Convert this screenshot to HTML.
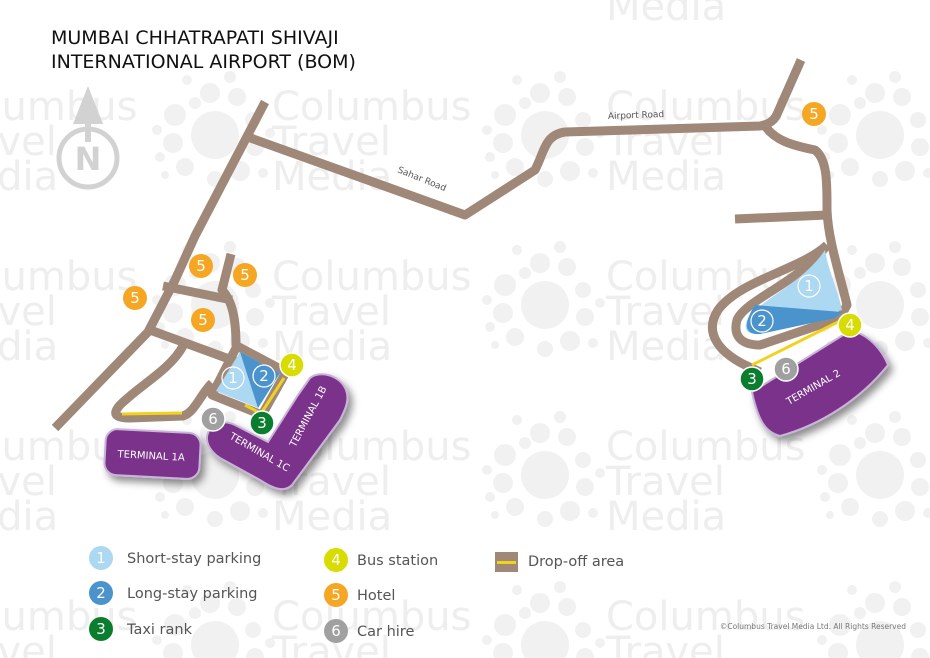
<!DOCTYPE html>
<html><head><meta charset="utf-8"><style>
html,body{margin:0;padding:0;background:#fff;width:930px;height:658px;overflow:hidden;}
svg{display:block;font-family:"DejaVu Sans","Liberation Sans",sans-serif;}
</style></head><body>
<svg width="930" height="658" viewBox="0 0 930 658" xmlns="http://www.w3.org/2000/svg">
<defs>
<g id="dots" fill="#f1f1f1">
<circle cx="0" cy="0" r="24"/>
<circle cx="-40" cy="-20" r="11"/><circle cx="-42" cy="8" r="10"/><circle cx="-30" cy="32" r="9"/>
<circle cx="-5" cy="-42" r="10"/><circle cx="22" cy="-38" r="9"/><circle cx="38" cy="-15" r="8"/>
<circle cx="40" cy="12" r="9"/><circle cx="25" cy="36" r="10"/><circle cx="0" cy="44" r="8"/>
<circle cx="-20" cy="-32" r="6"/><circle cx="-58" cy="-5" r="5"/><circle cx="-55" cy="22" r="5"/>
<circle cx="55" cy="-2" r="5"/><circle cx="-28" cy="-55" r="5"/><circle cx="15" cy="-58" r="6"/>
<circle cx="-50" cy="40" r="4"/><circle cx="48" cy="38" r="5"/>
</g>
<g id="wm" fill="#eeeeee" font-size="40">
<text x="0" y="0">Columbus</text><text x="0" y="35">Travel</text><text x="0" y="70">Media</text>
</g>
<filter id="sh" x="-20%" y="-20%" width="150%" height="150%"><feDropShadow dx="4" dy="5" stdDeviation="4" flood-color="#000" flood-opacity="0.45"/></filter>
</defs>

<g>
<use href="#dots" x="215" y="135"/><use href="#dots" x="545" y="135"/><use href="#dots" x="880" y="135"/>
<use href="#dots" x="215" y="305"/><use href="#dots" x="545" y="305"/><use href="#dots" x="880" y="305"/>
<use href="#dots" x="215" y="475"/><use href="#dots" x="545" y="475"/><use href="#dots" x="880" y="475"/>
<use href="#dots" x="215" y="645"/><use href="#dots" x="545" y="645"/><use href="#dots" x="880" y="645"/>
<use href="#wm" x="-62" y="120"/><use href="#wm" x="272" y="120"/><use href="#wm" x="606" y="120"/>
<use href="#wm" x="-62" y="290"/><use href="#wm" x="272" y="290"/><use href="#wm" x="606" y="290"/>
<use href="#wm" x="-62" y="460"/><use href="#wm" x="272" y="460"/><use href="#wm" x="606" y="460"/>
<use href="#wm" x="-62" y="630"/><use href="#wm" x="272" y="630"/><use href="#wm" x="606" y="630"/>
<use href="#wm" x="606" y="-50"/>
</g>

<text x="51" y="44" font-size="19" fill="#111">MUMBAI CHHATRAPATI SHIVAJI</text>
<text x="51" y="68" font-size="19" fill="#111">INTERNATIONAL AIRPORT (BOM)</text>

<circle cx="88" cy="158" r="29" fill="none" stroke="#d2d2d2" stroke-width="5"/>
<text x="88" y="170" font-size="32" font-weight="bold" fill="#d2d2d2" text-anchor="middle">N</text>
<polygon points="88,86 73,124 103,124" fill="#d2d2d2"/>
<rect x="85" y="110" width="6" height="32" fill="#d2d2d2"/>

<g fill="none" stroke="#a08878" stroke-width="9" stroke-linejoin="round" stroke-linecap="butt">
<path d="M55,428 L148,332 L175,280 L195,236 L265,102"/>
<path d="M245,136 L465,215 L535,170 C545,150 545,135 565,132 L760,126 C770,124 775,120 778,112 L801,60"/>
<path d="M765,126 C775,140 790,145 815,150 C828,160 827,185 827,215 L735,219"/>
<path d="M827,210 C828,240 840,275 847,305 L840,318 L760,345 C740,345 733,335 737,320 C745,300 800,282 827,245"/>
<path d="M827,245 C800,270 740,280 718,310 C705,330 715,350 745,365 L760,372"/>
<path d="M163,286 L232,300"/>
<path d="M231,254 L222,290 C234,302 236,325 236,346"/>
<path d="M150,330 L240,363"/>
<path d="M183,346 C170,370 140,385 120,405 C112,414 115,418 130,418 L183,416 C195,412 200,395 212,383"/>
<path d="M237,346 L286,372 L262,415 L212,395 Z"/>
</g>
<polygon points="240,352 280,373 258,408 216,391" fill="#acd8f2"/>
<polygon points="240,352 280,373 258,408" fill="#4a93cc"/>
<path d="M825,250 C828,270 838,290 842,310 L760,334 C745,335 742,328 750,315 C770,295 805,280 825,250 Z" fill="#acd8f2"/>
<path d="M755,305 L842,312 L835,318 L760,334 C745,335 742,325 755,305 Z" fill="#4a93cc"/>

<g stroke="#f2d21a" stroke-width="3" fill="none">
<path d="M122,414 L182,413"/>
<path d="M284,378 L262,412"/>
<path d="M245,405 L258,412"/>
<path d="M842,320 L752,365"/>
</g>

<g filter="url(#sh)" fill="#7a338a" stroke="#c9b3d8" stroke-width="2">
<rect x="105" y="431" width="95" height="46" rx="12" transform="rotate(3 152 454)"/>
<path d="M310,378 C320,370 340,375 346,390 C350,400 345,410 340,420 L292,485 C285,492 275,490 260,480 L220,458 C208,450 205,440 208,433 C212,422 225,420 235,425 L268,442 L298,395 Z"/>
<path d="M752,392 L848,332 C862,330 880,345 888,365 C860,400 820,425 780,436 C765,432 758,420 752,392 Z"/>
</g>
<g fill="#fff" font-size="10">
<text x="151" y="459" text-anchor="middle" transform="rotate(3 151 459)">TERMINAL 1A</text>
<text x="258" y="455" text-anchor="middle" transform="rotate(30 258 455)">TERMINAL 1C</text>
<text x="311" y="418" text-anchor="middle" transform="rotate(-62 311 418)">TERMINAL 1B</text>
<text x="815" y="390" text-anchor="middle" transform="rotate(-30 815 390)">TERMINAL 2</text>
</g>

<text x="608" y="119" font-size="9" fill="#555" transform="rotate(-2 608 119)">Airport Road</text>
<text x="397" y="172" font-size="9" fill="#555" transform="rotate(22 397 172)">Sahar Road</text>

<g font-size="15" text-anchor="middle" fill="#fff">
<g fill="#f5a623"><circle cx="201" cy="266" r="12"/><circle cx="245" cy="275" r="12"/><circle cx="135" cy="298" r="12"/><circle cx="203" cy="320" r="12"/><circle cx="814" cy="114" r="12"/></g>
<text x="201" y="271">5</text><text x="245" y="280">5</text><text x="135" y="303">5</text><text x="203" y="325">5</text><text x="814" y="119">5</text>
<circle cx="233" cy="378" r="11" fill="none" stroke="#fff" stroke-width="1.2"/><text x="233" y="383">1</text>
<circle cx="264" cy="376" r="11" fill="none" stroke="#fff" stroke-width="1.2"/><text x="264" y="381">2</text>
<circle cx="809" cy="286" r="11" fill="none" stroke="#fff" stroke-width="1.2"/><text x="809" y="291">1</text>
<circle cx="762" cy="321" r="11" fill="none" stroke="#fff" stroke-width="1.2"/><text x="762" y="326">2</text>
<circle cx="292" cy="365" r="12" fill="#d9dc00" stroke="#fff" stroke-width="1.5"/><text x="292" y="370">4</text>
<circle cx="850" cy="325" r="12" fill="#d9dc00" stroke="#fff" stroke-width="1.5"/><text x="850" y="330">4</text>
<circle cx="213" cy="419" r="12" fill="#a0a0a0" stroke="#fff" stroke-width="1.5"/><text x="213" y="424">6</text>
<circle cx="786" cy="369" r="12" fill="#a0a0a0" stroke="#fff" stroke-width="1.5"/><text x="786" y="374">6</text>
<circle cx="262" cy="423" r="12" fill="#0b7d2e" stroke="#fff" stroke-width="1.5"/><text x="262" y="428">3</text>
<circle cx="752" cy="379" r="12" fill="#0b7d2e" stroke="#fff" stroke-width="1.5"/><text x="752" y="384">3</text>
</g>

<g font-size="15" text-anchor="middle" fill="#fff">
<circle cx="101" cy="558" r="12" fill="#acd8f2"/><text x="101" y="563">1</text>
<circle cx="101" cy="593" r="12" fill="#4a93cc"/><text x="101" y="598">2</text>
<circle cx="101" cy="629" r="12" fill="#0b7d2e"/><text x="101" y="634">3</text>
<circle cx="336" cy="560" r="12" fill="#d9dc00"/><text x="336" y="565">4</text>
<circle cx="336" cy="595" r="12" fill="#f5a623"/><text x="336" y="600">5</text>
<circle cx="336" cy="631" r="12" fill="#a0a0a0"/><text x="336" y="636">6</text>
</g>
<g font-size="14.5" fill="#555">
<text x="127" y="563">Short-stay parking</text>
<text x="127" y="598">Long-stay parking</text>
<text x="127" y="634">Taxi rank</text>
<text x="357" y="565">Bus station</text>
<text x="357" y="600">Hotel</text>
<text x="357" y="636">Car hire</text>
<text x="528" y="566">Drop-off area</text>
</g>
<rect x="495" y="552" width="23" height="20" fill="#a08878"/>
<rect x="497" y="561" width="19" height="3" fill="#f2d21a"/>
<text x="906" y="629" font-size="7.5" fill="#777" text-anchor="end">©Columbus Travel Media Ltd. All Rights Reserved</text>
</svg>
</body></html>
